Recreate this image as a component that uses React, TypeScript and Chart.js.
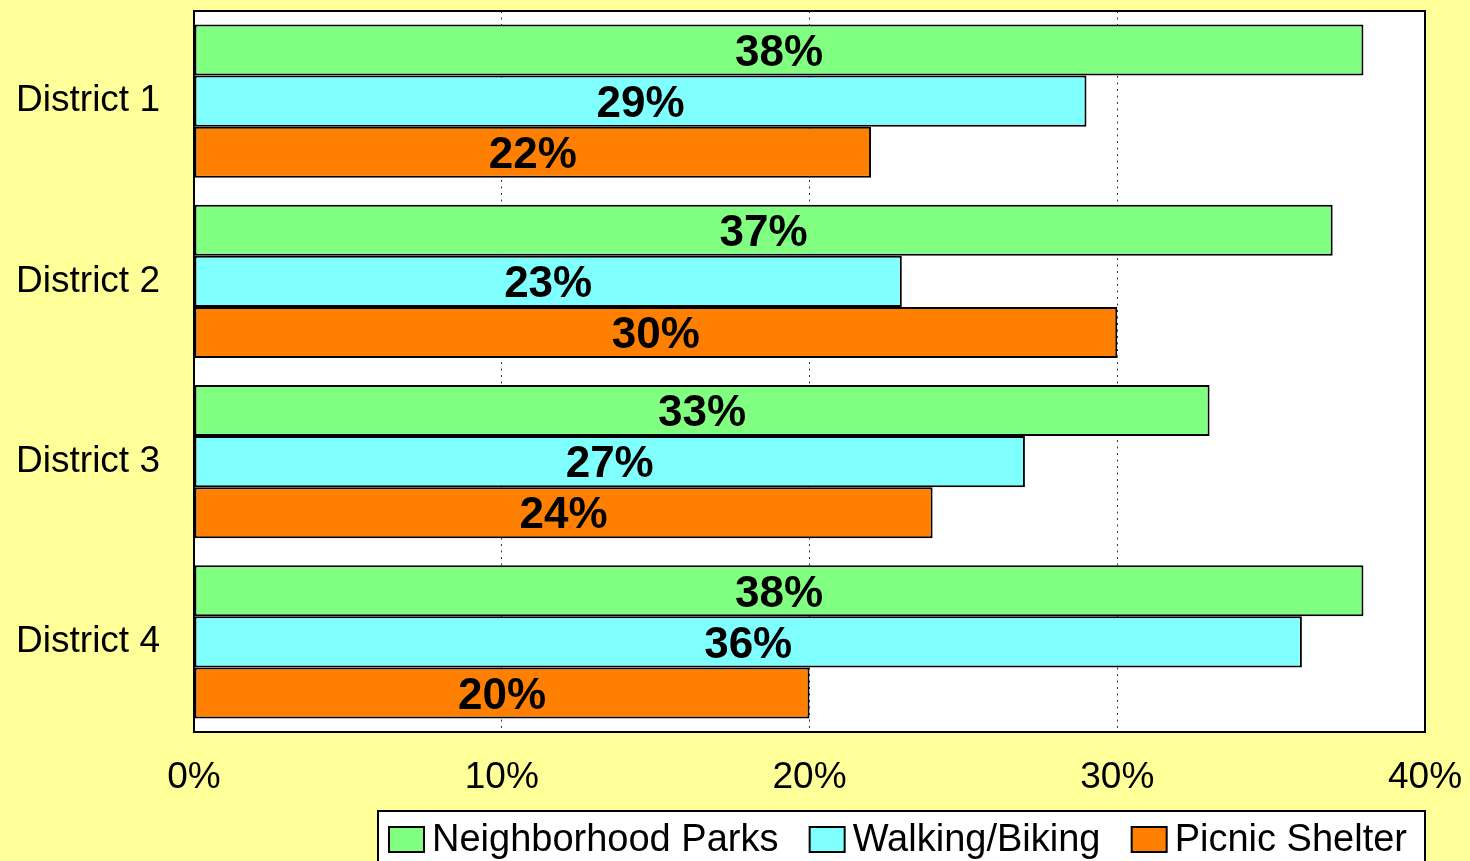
import React, { useEffect, useRef } from "react";
import { Chart, registerables } from "chart.js";

Chart.register(...registerables);

const categories = ["District 1", "District 2", "District 3", "District 4"];
const seriesNames = ["Neighborhood Parks", "Walking/Biking", "Picnic Shelter"];
const neighborhoodParks = [38, 37, 33, 38];
const walkingBiking = [29, 23, 27, 36];
const picnicShelter = [22, 30, 24, 20];
const xTickValues = [0, 10, 20, 30, 40];
const xTickLabels = ["0%", "10%", "20%", "30%", "40%"];

const FONT = "'Liberation Sans', Arial, Helvetica, sans-serif";
const COLORS = ["#80FF80", "#80FFFF", "#FF8000"];

const backgroundPlugin = {
  id: "bgPlugin",
  beforeDraw(chart: any) {
    const { ctx, chartArea, width, height } = chart;
    ctx.save();
    ctx.fillStyle = "#FFFF99";
    ctx.fillRect(0, 0, width, height);
    ctx.fillStyle = "#FFFFFF";
    ctx.fillRect(chartArea.left, chartArea.top, chartArea.right - chartArea.left, chartArea.bottom - chartArea.top);
    ctx.restore();
  },
};

const overlayPlugin = {
  id: "overlayPlugin",
  afterDraw(chart: any) {
    const { ctx, chartArea } = chart;
    ctx.save();
    // plot border
    ctx.strokeStyle = "#000";
    ctx.lineWidth = 2;
    ctx.strokeRect(chartArea.left, chartArea.top, chartArea.right - chartArea.left, chartArea.bottom - chartArea.top);

    // data labels
    ctx.fillStyle = "#000";
    ctx.font = `bold 44px ${FONT}`;
    ctx.textAlign = "center";
    ctx.textBaseline = "alphabetic";
    chart.data.datasets.forEach((ds: any, di: number) => {
      const meta = chart.getDatasetMeta(di);
      meta.data.forEach((bar: any, i: number) => {
        const props = bar.getProps(["x", "y", "base"], true);
        const cx = (props.x + props.base) / 2;
        const cy = props.y + 0.358 * 44;
        ctx.fillText(ds.data[i] + "%", cx, cy);
      });
    });

    // legend
    const boxLeft = 378;
    const boxRight = chartArea.right;
    const boxTop = 811;
    ctx.fillStyle = "#FFFFFF";
    ctx.fillRect(boxLeft, boxTop, boxRight - boxLeft, 80);
    ctx.strokeStyle = "#000";
    ctx.lineWidth = 2;
    ctx.strokeRect(boxLeft, boxTop, boxRight - boxLeft, 80);

    ctx.font = `38px ${FONT}`;
    ctx.textAlign = "left";
    ctx.textBaseline = "alphabetic";
    const labels = chart.data.datasets.map((d: any) => d.label);
    const widths = labels.map((l: string) => ctx.measureText(l).width);
    const startX = 389;
    const endX = 1407;
    const sqW = 35;
    const sqH = 25;
    const textOff = 43;
    const used = widths.reduce((a: number, w: number) => a + w + textOff, 0);
    const gap = (endX - startX - used) / (labels.length - 1);
    let x = startX;
    chart.data.datasets.forEach((ds: any, di: number) => {
      ctx.fillStyle = ds.backgroundColor;
      ctx.fillRect(x, 827, sqW, sqH);
      ctx.strokeStyle = "#000";
      ctx.lineWidth = 2;
      ctx.strokeRect(x, 827, sqW, sqH);
      ctx.fillStyle = "#000";
      ctx.fillText(labels[di], x + textOff, 851);
      x += textOff + widths[di] + gap;
    });
    ctx.restore();
  },
};

export default function App() {
  const canvasRef = useRef<HTMLCanvasElement | null>(null);

  useEffect(() => {
    document.body.style.margin = "0";
    const canvas = canvasRef.current;
    if (!canvas) return;
    const values = [neighborhoodParks, walkingBiking, picnicShelter];
    const chart = new Chart(canvas, {
      type: "bar",
      data: {
        labels: categories,
        datasets: seriesNames.map((name, i) => ({
          label: name,
          data: values[i],
          backgroundColor: COLORS[i],
          borderColor: "#000",
          borderWidth: 2,
          borderSkipped: false,
          categoryPercentage: 0.85,
          barPercentage: 1.0,
        })),
      },
      options: {
        indexAxis: "y",
        responsive: false,
        animation: false,
        devicePixelRatio: 1,
        layout: { padding: { top: 11, right: 45, bottom: 50, left: 0 } },
        plugins: {
          legend: { display: false },
          tooltip: { enabled: false },
        },
        scales: {
          x: {
            min: 0,
            max: 40,
            afterBuildTicks: (scale: any) => {
              scale.ticks = xTickValues.map((v) => ({ value: v }));
            },
            afterFit: (scale: any) => {
              scale.height = 79;
              scale.paddingLeft = 0;
              scale.paddingRight = 0;
              scale.paddingTop = 0;
              scale.paddingBottom = 0;
            },
            ticks: {
              callback: (_v: any, i: number) => xTickLabels[i],
              color: "#000",
              font: { family: FONT, size: 37 },
              padding: 24,
              maxRotation: 0,
            },
            grid: {
              drawTicks: false,
              lineWidth: 1,
              color: (ctx: any) =>
                ctx.tick && (ctx.tick.value === 0 || ctx.tick.value === 40) ? "rgba(0,0,0,0)" : "#333333",
            },
            border: { display: false, dash: [2, 4.5] },
          },
          y: {
            afterFit: (scale: any) => {
              scale.width = 194;
              scale.paddingLeft = 0;
              scale.paddingRight = 0;
              scale.paddingTop = 0;
              scale.paddingBottom = 0;
            },
            ticks: {
              color: "#000",
              font: { family: FONT, size: 37 },
              padding: 34,
            },
            grid: { display: false, drawTicks: false },
            border: { display: false },
          },
        },
      },
      plugins: [backgroundPlugin, overlayPlugin],
    } as any);
    return () => chart.destroy();
  }, []);

  return (
    <div style={{ position: "absolute", left: 0, top: 0, width: 1470, height: 861 }}>
      <canvas ref={canvasRef} width={1470} height={861} style={{ display: "block" }} />
    </div>
  );
}
